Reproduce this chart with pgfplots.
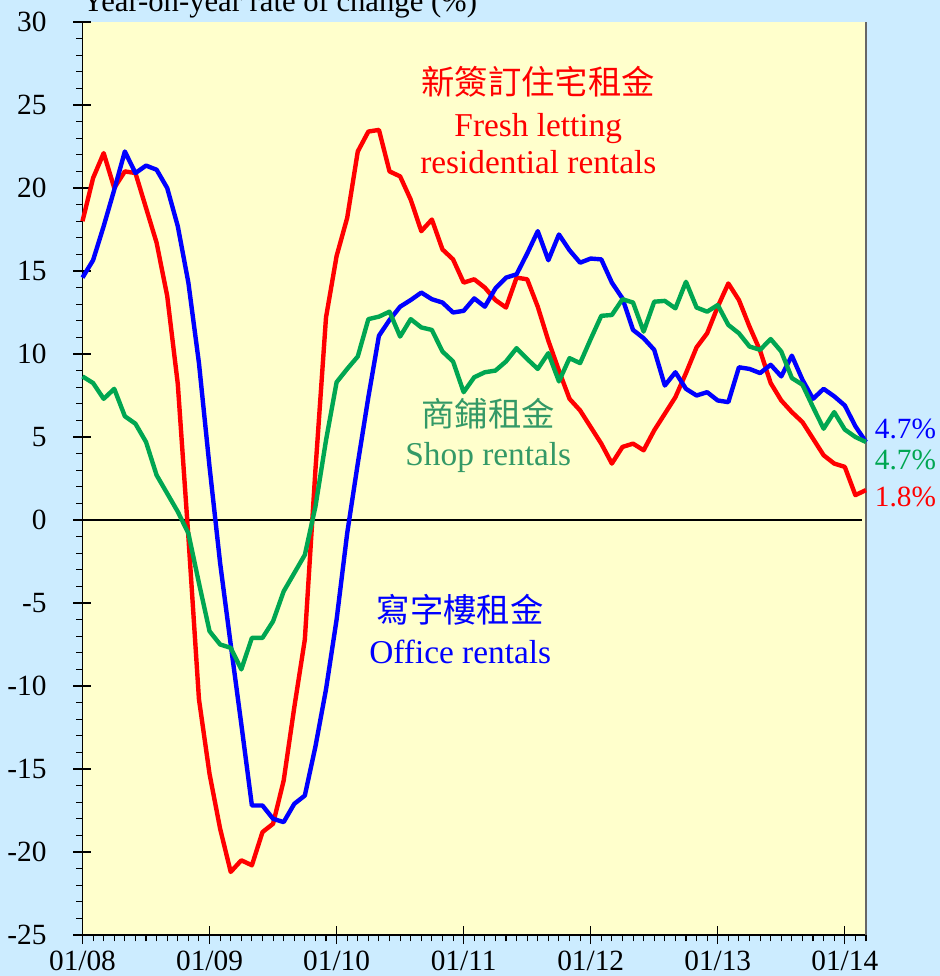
\documentclass[border=0pt]{standalone}
\usepackage{pgfplots}
\pgfplotsset{compat=1.18}
\usepackage{fontspec}
\setmainfont{Liberation Serif}
\newfontfamily\cjk{Noto Sans CJK TC}
\definecolor{bgblue}{RGB}{204,236,255}
\definecolor{plotyellow}{RGB}{255,255,204}
\definecolor{lred}{RGB}{255,0,0}
\definecolor{lblue}{RGB}{0,0,255}
\definecolor{lgreen}{RGB}{0,166,81}
\definecolor{tgreen}{RGB}{51,153,102}

\pgfplotstableread{
m red blue green
0 18.0 14.6 8.65
1 20.6 15.65 8.25
2 22.1 17.7 7.3
3 20.0 19.9 7.9
4 21.0 22.2 6.25
5 20.9 20.9 5.8
6 18.8 21.35 4.7
7 16.7 21.1 2.7
8 13.5 20.0 1.6
9 8.2 17.7 0.5
10 -1.0 14.3 -0.8
11 -10.8 9.45 -3.8
12 -15.3 3.2 -6.7
13 -18.6 -2.6 -7.5
14 -21.2 -7.5 -7.7
15 -20.5 -12.3 -9.0
16 -20.8 -17.2 -7.1
17 -18.8 -17.2 -7.1
18 -18.3 -18.0 -6.1
19 -15.7 -18.2 -4.3
20 -11.3 -17.1 -3.2
21 -7.2 -16.6 -2.1
22 3.0 -13.65 0.8
23 12.2 -10.2 4.8
24 15.9 -6.0 8.3
25 18.2 -0.8 9.1
26 22.2 3.4 9.85
27 23.4 7.4 12.1
28 23.5 11.1 12.25
29 21.0 12.05 12.55
30 20.7 12.85 11.05
31 19.3 13.25 12.1
32 17.4 13.7 11.6
33 18.1 13.3 11.45
34 16.3 13.1 10.15
35 15.7 12.5 9.55
36 14.3 12.6 7.7
37 14.5 13.35 8.6
38 14.0 12.85 8.9
39 13.25 13.95 9.0
40 12.8 14.6 9.55
41 14.6 14.8 10.35
42 14.5 16.05 9.7
43 12.85 17.4 9.1
44 10.8 15.65 10.05
45 9.0 17.2 8.35
46 7.3 16.25 9.75
47 6.6 15.5 9.45
48 5.6 15.75 10.9
49 4.6 15.7 12.3
50 3.4 14.3 12.35
51 4.4 13.35 13.3
52 4.6 11.45 13.1
53 4.2 10.95 11.35
54 5.4 10.25 13.15
55 6.4 8.1 13.2
56 7.4 8.9 12.75
57 8.85 7.9 14.35
58 10.4 7.5 12.8
59 11.25 7.7 12.55
60 12.85 7.2 12.95
61 14.25 7.1 11.75
62 13.25 9.2 11.25
63 11.65 9.1 10.45
64 10.2 8.85 10.25
65 8.25 9.35 10.9
66 7.2 8.65 10.15
67 6.5 9.9 8.55
68 5.9 8.45 8.15
69 4.9 7.3 6.8
70 3.9 7.9 5.5
71 3.4 7.45 6.5
72 3.2 6.9 5.45
73 1.5 5.65 5.0
74 1.8 4.7 4.7
}\datatable

\begin{document}
\begin{tikzpicture}[x=1pt,y=1pt]
\fill[bgblue] (0,0) rectangle (705,732);
\node[anchor=base west, inner sep=0pt, font=\fontsize{23}{26}\selectfont] at (61.5,723.5) {Year-on-year rate of change (\%)};
\begin{axis}[
  at={(61.875pt,30.75pt)}, anchor=south west,
  scale only axis, width=587.6pt, height=684.75pt,
  xmin=0, xmax=74, ymin=-25, ymax=30,
  axis background/.style={fill=plotyellow},
  axis x line*=bottom, axis y line*=left,
  x axis line style={-}, y axis line style={-},
  axis line style={black, line width=1pt},
  xtick={0,12,...,72},
  xticklabels={01/08,01/09,01/10,01/11,01/12,01/13,01/14},
  minor xtick={0,1,...,74},
  ytick={-25,-20,...,30},
  minor ytick={-25,-24,...,30},
  xtick pos=bottom, ytick pos=left,
  tick align=outside,
  major tick length=6.75pt,
  minor tick length=4.75pt,
  tick style={black, line width=0.8pt},
  /pgf/number format/assume math mode=true,
  tick label style={font=\fontsize{22}{24}\selectfont, inner sep=0pt},
  yticklabel style={anchor=east, xshift=-20pt},
  xticklabel style={anchor=north, yshift=-5pt},
  clip=false,
]
\pgfplotsinvokeforeach{-25,-20,...,30}{\draw[black, line width=0.8pt] (axis cs:0,#1) -- ([xshift=6.75pt]axis cs:0,#1);}
\pgfplotsinvokeforeach{12,24,...,72}{\draw[black, line width=0.8pt] (axis cs:#1,-25) -- ([yshift=6.75pt]axis cs:#1,-25);}
\draw[black, line width=1pt] (axis cs:0.45,0) -- (axis cs:73.6,0);
\draw[black!60, line width=0.8pt] (axis cs:74,-25) -- (axis cs:74,30);
\addplot[lred, line width=3.3pt, line join=round] table[x=m, y=red] {\datatable};
\addplot[lblue, line width=3.3pt, line join=round] table[x=m, y=blue] {\datatable};
\addplot[lgreen, line width=3.3pt, line join=round] table[x=m, y=green] {\datatable};
\node[lred, font=\cjk\fontsize{25}{30}\selectfont] at (axis cs:43.05,26.4) {新簽訂住宅租金};
\node[lred, anchor=base, inner sep=0pt, font=\fontsize{25}{30}\selectfont] at (axis cs:43.05,23.13) {Fresh letting};
\node[lred, anchor=base, inner sep=0pt, font=\fontsize{25}{30}\selectfont] at (axis cs:43.05,20.9) {residential rentals};
\node[tgreen, font=\cjk\fontsize{25}{30}\selectfont] at (axis cs:38.33,6.4) {商鋪租金};
\node[tgreen, anchor=base, inner sep=0pt, font=\fontsize{25}{30}\selectfont] at (axis cs:38.33,3.3) {Shop rentals};
\node[lblue, font=\cjk\fontsize{25}{30}\selectfont] at (axis cs:35.68,-5.42) {寫字樓租金};
\node[lblue, anchor=base, inner sep=0pt, font=\fontsize{25}{30}\selectfont] at (axis cs:35.68,-8.63) {Office rentals};
\node[lblue, anchor=base west, inner sep=0pt, xshift=6.5pt, font=\fontsize{22}{24}\selectfont] at (axis cs:74,4.92) {4.7\%};
\node[lgreen, anchor=base west, inner sep=0pt, xshift=6.5pt, font=\fontsize{22}{24}\selectfont] at (axis cs:74,3.05) {4.7\%};
\node[lred, anchor=base west, inner sep=0pt, xshift=6.5pt, font=\fontsize{22}{24}\selectfont] at (axis cs:74,0.84) {1.8\%};
\end{axis}
\pgfresetboundingbox
\useasboundingbox (0,0) rectangle (705,732);
\end{tikzpicture}
\end{document}
